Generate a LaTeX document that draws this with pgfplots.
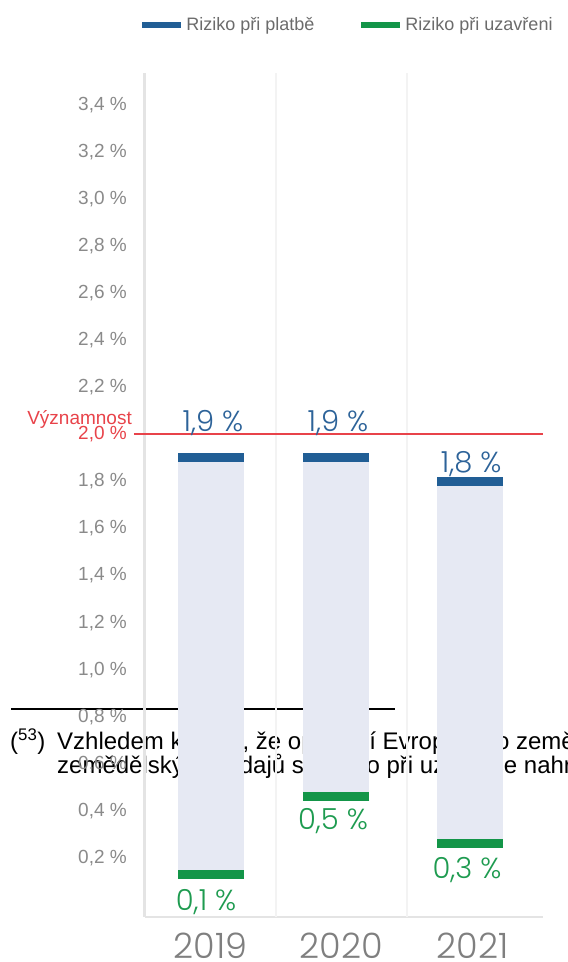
\documentclass[border=0pt]{standalone}
\usepackage{pgfplots}
\pgfplotsset{compat=1.18}
\usepackage{fontspec}
\setmainfont{Liberation Sans}
\newfontfamily\geo{Poppins Light}

\definecolor{blueM}{HTML}{215E95}
\definecolor{greenM}{HTML}{139548}
\definecolor{barfill}{HTML}{E6E9F3}
\definecolor{bluetxt}{HTML}{2D6399}
\definecolor{greentxt}{HTML}{1E9B50}
\definecolor{sigred}{HTML}{E8434A}
\definecolor{tickgray}{HTML}{8A8A8A}
\definecolor{yeargray}{HTML}{7F7F7F}
\definecolor{legendgray}{HTML}{6B6B6B}
\definecolor{axisgray}{HTML}{E4E4E4}
\definecolor{gridgray}{HTML}{F3F3F3}

\begin{document}
\begin{tikzpicture}
\path[use as bounding box] (0,0) rectangle (568pt,962pt);

% footnote of the page underneath the chart
\draw[line width=1.2pt] (11pt,253pt) -- (395pt,253pt);
\node[anchor=base west, inner sep=0pt, font=\fontsize{24}{28}\selectfont] at (10pt,212pt) {(\textsuperscript{53})};
\node[anchor=base west, inner sep=0pt, font=\fontsize{24}{28}\selectfont] at (57pt,212pt) {Vzhledem k tomu, že opatření Evropského zemědělského fondu};
\node[anchor=base west, inner sep=0pt, font=\fontsize{24}{28}\selectfont] at (57pt,188pt) {zemědělských výdajů se riziko při uzávěrce nahrazuje};

\begin{axis}[
    at={(145pt,45pt)}, anchor=south west,
    scale only axis, width=398pt, height=844pt,
    xmin=-0.5, xmax=2.538, ymin=-0.051, ymax=3.536,
    axis x line*=bottom, axis y line*=left,
    x axis line style={draw=axisgray, line width=2pt},
    y axis line style={draw=axisgray, line width=3pt},
    xtick={0,1,2}, xticklabels={2019,2020,2021},
    xticklabel style={font=\geo\fontsize{35}{37}\selectfont, text=yeargray, anchor=center, yshift=-29pt},
    ytick={0.2,0.4,0.6,0.8,1.0,1.2,1.4,1.6,1.8,2.0,2.2,2.4,2.6,2.8,3.0,3.2,3.4},
    yticklabels={{0,2 \%},{0,4 \%},{0,6 \%},{0,8 \%},{1,0 \%},{1,2 \%},{1,4 \%},{1,6 \%},{1,8 \%},{\textcolor{sigred}{2,0 \%}},{2,2 \%},{2,4 \%},{2,6 \%},{2,8 \%},{3,0 \%},{3,2 \%},{3,4 \%}},
    yticklabel style={font=\fontsize{19}{21}\selectfont, text=tickgray, anchor=east, inner sep=0pt, xshift=-18pt},
    major tick length=0pt,
    extra x ticks={0.5,1.5}, extra x tick labels={},
    extra x tick style={grid=major, major tick length=0pt},
    major grid style={draw=gridgray, line width=1.5pt},
    clip=false,
    legend columns=2,
    legend style={at={(-0.022,1.0569)}, anchor=west, draw=none, fill=none,
        font=\fontsize{18}{21}\selectfont\color{legendgray},
        /tikz/every even column/.append style={column sep=42pt},
        cells={anchor=west}},
    legend image code/.code={\draw[#1, line width=6pt] (0pt,0pt) -- (39pt,0pt);},
]
% light bars from the closing risk up to the payment risk
\addplot[barfill, line width=66pt, forget plot] coordinates {(0,0.13) (0,1.9)};
\addplot[barfill, line width=66pt, forget plot] coordinates {(0.96,0.46) (0.96,1.9)};
\addplot[barfill, line width=66pt, forget plot] coordinates {(1.98,0.26) (1.98,1.8)};
% end markers
\addplot[only marks, mark=-, mark size=33pt, mark options={draw=blueM, line width=9pt}, forget plot]
    coordinates {(0,1.9) (0.96,1.9) (1.98,1.8)};
\addplot[only marks, mark=-, mark size=33pt, mark options={draw=greenM, line width=9pt}, forget plot]
    coordinates {(0,0.13) (0.96,0.46) (1.98,0.26)};
% materiality threshold
\addplot[sigred, line width=2pt, forget plot] coordinates {(-0.584,2.0) (2.538,2.0)};

\addlegendimage{blueM}
\addlegendentry{Riziko při platbě}
\addlegendimage{greenM}
\addlegendentry{Riziko při uzavřeni}

\node[anchor=base east, inner sep=0pt, font=\fontsize{19}{22}\selectfont, text=sigred] at (axis cs:-0.599,2.040) {Významnost};

\node[font=\geo\fontsize{29}{32}\selectfont, text=bluetxt] at (axis cs:0.019,2.05) {1,9 \%};
\node[font=\geo\fontsize{29}{32}\selectfont, text=bluetxt] at (axis cs:0.973,2.05) {1,9 \%};
\node[font=\geo\fontsize{29}{32}\selectfont, text=bluetxt] at (axis cs:1.989,1.875) {1,8 \%};
\node[font=\geo\fontsize{29}{32}\selectfont, text=greentxt] at (axis cs:-0.034,0.012) {0,1 \%};
\node[font=\geo\fontsize{29}{32}\selectfont, text=greentxt] at (axis cs:0.935,0.355) {0,5 \%};
\node[font=\geo\fontsize{29}{32}\selectfont, text=greentxt] at (axis cs:1.958,0.150) {0,3 \%};
\end{axis}
\end{tikzpicture}
\end{document}
